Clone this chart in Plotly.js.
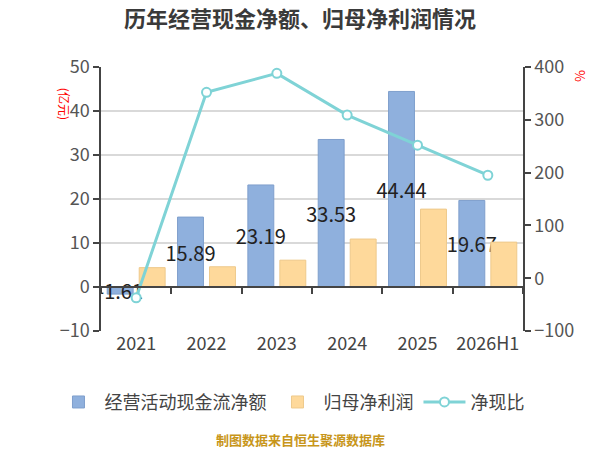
<!DOCTYPE html>
<html>
<head>
<meta charset="utf-8">
<script src="https://cdn.plot.ly/plotly-3.0.1.min.js"></script>
<style>
  html, body { margin: 0; padding: 0; background: #ffffff; }
  #grafico { width: 600px; height: 450px; }
</style>
</head>
<body>
<div id="grafico"></div>
<script>
// Datos (亿元 para las barras, % para la línea)
const anios = ['2021', '2022', '2023', '2024', '2025', '2026H1'];
const flujoOperativo = [-1.61, 15.89, 23.19, 33.53, 44.44, 19.67];
const beneficioNeto = [4.4, 4.6, 6.1, 10.9, 17.7, 10.2];
const ratioCaja = [-37, 352, 388, 309, 252, 195];

const FUENTE = '"Noto Sans CJK SC", "Noto Sans", sans-serif';
const GRIS_EJE = '#444444';

const trazas = [
  {
    type: 'bar',
    name: '经营活动现金流净额',
    x: anios,
    y: flujoOperativo,
    marker: { color: '#8fb0dd', line: { color: '#7f9fcc', width: 1 } },
    text: flujoOperativo.map((v) => v.toFixed(2)),
    textposition: 'inside',
    insidetextanchor: 'middle',
    constraintext: 'none',
    textangle: 0,
    insidetextfont: { size: 20, color: '#222222', family: FUENTE },
    hoverinfo: 'x+y',
  },
  {
    type: 'bar',
    name: '归母净利润',
    x: anios,
    y: beneficioNeto,
    marker: { color: '#fed99b', line: { color: '#eec98b', width: 1 } },
    hoverinfo: 'x+y',
  },
  {
    // línea en ejes propios: x2 sólo sirve para dibujar el eje en y=0 con ticks en los bordes
    type: 'scatter',
    mode: 'lines+markers',
    name: '净现比',
    x: anios,
    y: ratioCaja,
    xaxis: 'x2',
    yaxis: 'y2',
    cliponaxis: false,
    line: { color: '#7fd3d6', width: 3 },
    marker: { size: 9, color: '#ffffff', line: { color: '#7fd3d6', width: 2 } },
  },
];

const layout = {
  width: 600,
  height: 450,
  margin: { l: 101, r: 77, t: 67, b: 119 },
  paper_bgcolor: '#ffffff',
  plot_bgcolor: '#ffffff',
  font: { family: FUENTE, size: 18, color: GRIS_EJE },
  title: {
    text: '<b>历年经营现金净额、归母净利润情况</b>',
    x: 0.5, xanchor: 'center', y: 0.958, yanchor: 'middle',
    font: { size: 22, color: '#3a3a3a', family: FUENTE },
  },
  barmode: 'group',
  bargap: 0.09,
  bargroupgap: 0.19,
  showlegend: true,
  legend: {
    orientation: 'h', x: -0.115, xanchor: 'left', y: -0.27, yanchor: 'middle',
    font: { size: 18, color: GRIS_EJE }, itemwidth: 42, traceorder: 'normal',
  },
  xaxis: {
    type: 'category', range: [-0.5, 5.5],
    showline: false, ticks: '', showgrid: false, zeroline: false,
    tickfont: { size: 18, color: GRIS_EJE },
  },
  xaxis2: {
    type: 'category', overlaying: 'x', anchor: 'free', position: 10 / 60,
    range: [-0.5, 5.5], showticklabels: false, showgrid: false, zeroline: false,
    showline: true, linecolor: GRIS_EJE, linewidth: 1.5,
    ticks: 'outside', tickson: 'boundaries', ticklen: 6, tickcolor: GRIS_EJE, tickwidth: 1.5,
  },
  yaxis: {
    range: [-10, 50], dtick: 10, zeroline: false,
    showline: true, linecolor: GRIS_EJE, linewidth: 1.5,
    ticks: 'outside', ticklen: 6, tickcolor: GRIS_EJE, tickwidth: 1.5,
    showgrid: true, gridcolor: '#d9d9d9', gridwidth: 1.5,
    tickfont: { size: 18, color: '#555555' },
  },
  yaxis2: {
    range: [-100, 400], dtick: 100, overlaying: 'y', side: 'right', anchor: 'x',
    showgrid: false, zeroline: false,
    showline: true, linecolor: GRIS_EJE, linewidth: 1.5,
    ticks: 'outside', ticklen: 6, tickcolor: GRIS_EJE, tickwidth: 1.5,
    tickfont: { size: 18, color: '#555555' },
  },
  annotations: [
    { text: '(亿元)', xref: 'paper', yref: 'paper', x: -0.111, y: 0.93, showarrow: false, textangle: 90, font: { size: 12, color: '#ff0000' } },
    { text: '%', xref: 'paper', yref: 'paper', x: 1.165, y: 0.996, showarrow: false, textangle: 90, font: { size: 13, color: '#ff0000' } },
    { text: '<b>制图数据来自恒生聚源数据库</b>', xref: 'paper', yref: 'paper', x: 0.4716, y: -0.417, yshift: -10, showarrow: false, font: { size: 13, color: '#c8961a' } },
  ],
};

Plotly.newPlot('grafico', trazas, layout, { displayModeBar: false, responsive: false });
</script>
</body>
</html>
